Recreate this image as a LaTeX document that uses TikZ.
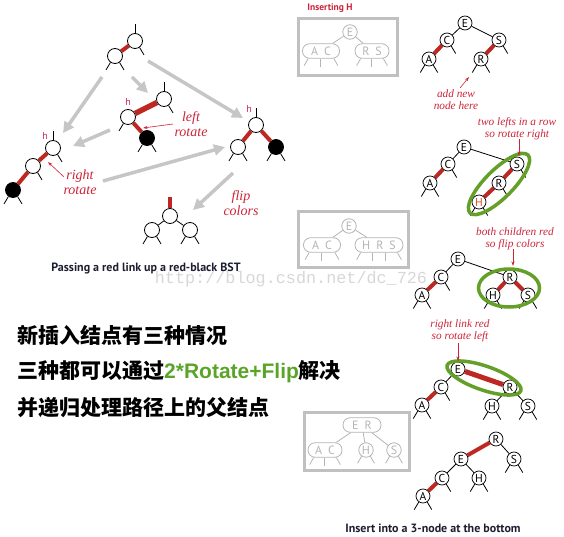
\documentclass[tikz,border=0pt]{standalone}
\usepackage{fontspec}
\setmainfont{Liberation Serif}
\setsansfont{PT Sans}
\newfontfamily\cjk{Noto Sans CJK SC}
\newfontfamily\arialb{Liberation Sans}
\newfontfamily\wmfont{Liberation Mono}
\usetikzlibrary{arrows.meta,shapes.geometric,calc}
\definecolor{rbred}{RGB}{190,40,35}
\definecolor{lblred}{RGB}{205,35,55}
\definecolor{hred}{RGB}{200,40,90}
\definecolor{garrow}{RGB}{198,198,198}
\definecolor{boxgray}{RGB}{192,192,192}
\definecolor{gin}{RGB}{180,180,180}
\definecolor{ringg}{RGB}{100,160,40}
\definecolor{cgreen}{RGB}{90,165,40}
\definecolor{wmc}{RGB}{215,215,215}
\definecolor{capc}{RGB}{30,30,50}
\definecolor{horange}{RGB}{215,80,30}
\newcommand\stL[1]{\draw[stb] (#1.-125) -- ++(-4.5,7.5);}
\newcommand\stR[1]{\draw[stb] (#1.-55) -- ++(4.5,7.5);}
\newcommand\stT[1]{\draw[stb] (#1.north) -- ++(0,-9);}
\newcommand\stLR[1]{\stL{#1}\stR{#1}}
\newcommand\ovL[1]{\draw[gl] ($(#1.south west)+(6,0)$) -- ++(-4,7);}
\newcommand\ovR[1]{\draw[gl] ($(#1.south east)+(-6,0)$) -- ++(4,7);}
\newcommand\ovM[2]{\draw[gl] ($(#1.south west)+(#2,0)$) -- ++(0,8);}
\begin{document}
\begin{tikzpicture}[x=1pt,y=-1pt,
 nd/.style={circle,draw,fill=white,inner sep=0pt,minimum size=15pt,line width=0.8pt},
 bk/.style={nd,fill=black},
 rn/.style={circle,draw,fill=white,inner sep=0pt,minimum size=14pt,line width=0.75pt,font=\sffamily\fontsize{11.5}{11.5}\selectfont},
 redl/.style={draw=rbred,line width=4pt},
 blk/.style={draw=black,line width=0.8pt},
 stb/.style={draw=black,line width=0.8pt},
 garr/.style={draw=garrow,line width=3.5pt,-{Triangle[length=11pt,width=11pt]}},
 annot/.style={draw=lblred,line width=0.6pt,-{Stealth[length=4.5pt,width=3pt]}},
 lblL/.style={text=lblred,font=\itshape\fontsize{14}{15}\selectfont,align=center,inner sep=0pt},
 lblR/.style={text=lblred,font=\itshape\fontsize{11.3}{12}\selectfont,align=center,inner sep=0pt},
 hl/.style={text=hred,font=\sffamily\fontsize{10}{10}\selectfont,inner sep=0pt},
 greenring/.style={draw=ringg,line width=3.5pt,ellipse,inner sep=0pt},
 graybox/.style={draw=boxgray,line width=3pt},
 gcirc/.style={circle,draw=gin,line width=0.8pt,text=gin,inner sep=0pt,minimum size=14.5pt,font=\sffamily\fontsize{12}{12}\selectfont},
 goval/.style={rounded corners=7pt,draw=gin,line width=0.8pt,text=gin,inner sep=0pt,minimum height=14.5pt,font=\sffamily\fontsize{12}{12}\selectfont},
 gl/.style={draw=gin,line width=0.8pt},
 capt/.style={font=\sffamily\bfseries\fontsize{12}{12}\selectfont,text=capc,inner sep=0pt},
 zh/.style={anchor=west,inner sep=0pt,font=\cjk\bfseries\fontsize{21}{21}\selectfont}
]
\useasboundingbox (0,0) rectangle (564,537);
% watermark
\node[text=wmc,font=\wmfont\fontsize{16.8}{17}\selectfont,inner sep=0pt] (wm) at (291,279) {http://blog.csdn.net/dc\_726};

% ---------- left diagram ----------
% top tree
\node[nd] (t1) at (135,41) {};
\node[nd] (t2) at (115,56) {};
\draw[redl] (t1) -- (t2);
\stT{t1}\stR{t1}\stLR{t2}
% middle tree
\node[nd] (m1) at (164,99) {};
\node[nd] (mh) at (128,117) {};
\node[bk] (mb) at (147,138) {};
\draw[redl,line width=5.5pt] (m1) -- (mh);
\draw[redl] (mh) -- (mb);
\stT{m1}\stR{m1}\stL{mh}\stLR{mb}
\node[hl] (hm) at (128,102) {h};
% left tree
\node[nd] (l1) at (53,148) {};
\node[nd] (l2) at (33,166) {};
\node[bk] (lb) at (13,190) {};
\draw[redl] (l1) -- (l2);
\draw[redl] (l2) -- (lb);
\stT{l1}\stR{l1}\stR{l2}\stLR{lb}
\node[hl] (hlft) at (45,136) {h};
% right tree
\node[nd] (r1) at (256,125) {};
\node[nd] (r2) at (238,147) {};
\node[bk] (rb) at (276,147) {};
\draw[redl] (r1) -- (r2);
\draw[redl] (r1) -- (rb);
\stT{r1}\stLR{r2}\stLR{rb}
\node[hl] (hr) at (249,109) {h};
% bottom tree
\node[nd] (b1) at (170,216) {};
\node[nd] (b2) at (152,230) {};
\node[nd] (b3) at (190,230) {};
\draw[blk] (b1) -- (b2);
\draw[blk] (b1) -- (b3);
\draw[redl] (b1.north) -- ++(0,-11);
\stLR{b2}\stLR{b3}
% gray arrows
\coordinate (ga1s) at (102,77); \coordinate (ga1e) at (63,133);
\coordinate (ga2s) at (132,77); \coordinate (ga2e) at (148,93);
\coordinate (ga3s) at (148,61); \coordinate (ga3e) at (243,118);
\coordinate (ga4s) at (110,130); \coordinate (ga4e) at (73,146);
\coordinate (ga5s) at (103,181); \coordinate (ga5e) at (225,147);
\coordinate (ga6s) at (233,173); \coordinate (ga6e) at (193,210);
\draw[garr] (ga1s) -- (ga1e);
\draw[garr] (ga2s) -- (ga2e);
\draw[garr] (ga3s) -- (ga3e);
\draw[garr] (ga4s) -- (ga4e);
\draw[garr] (ga5s) -- (ga5e);
\draw[garr] (ga6s) -- (ga6e);
% labels
\node[lblL] (lrot) at (191,124) {left\\rotate};
\coordinate (lra) at (173,124); \coordinate (lrb) at (143,128);
\draw[annot] (lra) -- (lrb);
\node[lblL] (rrot) at (80,182) {right\\rotate};
\coordinate (rra) at (64,177); \coordinate (rrb) at (48,162);
\draw[annot] (rra) -- (rrb);
\node[lblL] (flip) at (241,203) {flip\\colors};
\node[capt] (cap1) at (146,268) {Passing a red link up a red-black BST};

% ---------- right column ----------
\node[font=\sffamily\bfseries\fontsize{9.5}{9.5}\selectfont,text=lblred,inner sep=0pt] (ins) at (330,8) {Inserting H};
% box 1
\draw[graybox] (298,19) rectangle (397,76);
\node[gcirc] (bxE1) at (350,32) {E};
\node[goval,minimum width=37pt] (bxAC1) at (321,51) {A\,\,\,C};
\node[goval,minimum width=34pt] (bxRS1) at (372,51) {R\,\,\,S};
\draw[gl] (bxE1) -- (bxAC1);
\draw[gl] (bxE1) -- (bxRS1);
\ovL{bxAC1}\ovM{bxAC1}{18.5}\ovR{bxAC1}
\ovL{bxRS1}\ovM{bxRS1}{17}\ovR{bxRS1}
% box 2
\draw[graybox] (298,212) rectangle (408,267);
\node[gcirc] (bxE2) at (349,226) {E};
\node[goval,minimum width=37pt] (bxAC2) at (322,245) {A\,\,\,C};
\node[goval,minimum width=48pt] (bxHRS2) at (379,245) {H\,\,\,R\,\,\,S};
\draw[gl] (bxE2) -- (bxAC2);
\draw[gl] (bxE2) -- (bxHRS2);
\ovL{bxAC2}\ovM{bxAC2}{18.5}\ovR{bxAC2}
\ovL{bxHRS2}\ovM{bxHRS2}{18}\ovM{bxHRS2}{31}\ovR{bxHRS2}
% box 3
\draw[graybox] (304,412) rectangle (409,470);
\node[goval,minimum width=38pt] (bxER3) at (362,425) {E\,\,\,R};
\node[goval,minimum width=34pt] (bxAC3) at (325,450) {A\,\,\,C};
\node[gcirc] (bxH3) at (366,450) {H};
\node[gcirc] (bxS3) at (394,450) {S};
\draw[gl] (bxER3) -- (bxAC3);
\draw[gl] (bxER3) -- (bxH3);
\draw[gl] (bxER3) -- (bxS3);
\ovL{bxAC3}\ovM{bxAC3}{17}\ovR{bxAC3}
\draw[gl] (bxH3.-125) -- ++(-4,7); \draw[gl] (bxH3.-55) -- ++(4,7);
\draw[gl] (bxS3.-125) -- ++(-4,7); \draw[gl] (bxS3.-55) -- ++(4,7);
\node[capt] (cap2) at (433,528) {Insert into a 3-node at the bottom};

% tree 1
\node[rn] (E1) at (465,23) {E};
\node[rn] (C1) at (447,40) {C};
\node[rn] (A1) at (429,59) {A};
\node[rn] (S1) at (499,40) {S};
\node[rn] (R1) at (481,59) {R};
\draw[blk] (E1) -- (C1); \draw[blk] (E1) -- (S1);
\draw[redl] (C1) -- (A1); \draw[redl] (S1) -- (R1);
\stR{C1}\stR{S1}\stLR{A1}\stLR{R1}
\node[lblR] (addn) at (456,100) {add new\\node here};
\coordinate (ana) at (460,88); \coordinate (anb) at (469,77);
\draw[annot] (ana) -- (anb);
% tree 2
\node[rn] (E2) at (464,147) {E};
\node[rn] (C2) at (448,164) {C};
\node[rn] (A2) at (430,183) {A};
\node[rn] (S2) at (517,164) {S};
\node[rn] (R2) at (499,183) {R};
\node[rn,text=horange] (H2) at (479,202) {H};
\draw[blk] (E2) -- (C2); \draw[blk] (E2) -- (S2);
\draw[redl] (C2) -- (A2); \draw[redl] (S2) -- (R2); \draw[redl] (R2) -- (H2);
\stR{C2}\stLR{A2}\stR{S2}\stR{R2}\stLR{H2}
\node[greenring,minimum width=82pt,minimum height=28pt,rotate=45] (ring1) at (499,184) {};
\node[lblR] (twol) at (517,128.5) {two lefts in a row\\so rotate right};
\coordinate (tla) at (519,139); \coordinate (tlb) at (519,156);
\draw[annot] (tla) -- (tlb);
% tree 3
\node[rn] (E3) at (458,259) {E};
\node[rn] (C3) at (441,277) {C};
\node[rn] (A3) at (422,295) {A};
\node[rn] (R3) at (510,277) {R};
\node[rn] (H3) at (493,295) {H};
\node[rn] (S3) at (528,295) {S};
\draw[blk] (E3) -- (C3); \draw[blk] (E3) -- (R3);
\draw[redl] (C3) -- (A3); \draw[redl] (R3) -- (H3); \draw[redl] (R3) -- (S3);
\stR{C3}\stLR{A3}\stLR{H3}\stLR{S3}
\node[greenring,minimum width=61pt,minimum height=38pt] (ring2) at (509,288) {};
\node[lblR] (both) at (515,238.5) {both children red\\so flip colors};
\coordinate (bca) at (513,249); \coordinate (bcb) at (513,266);
\draw[annot] (bca) -- (bcb);
% tree 4
\node[rn] (E4) at (458,369) {E};
\node[rn] (C4) at (441,387) {C};
\node[rn] (A4) at (422,405) {A};
\node[rn] (R4) at (510,387) {R};
\node[rn] (H4) at (492,406) {H};
\node[rn] (S4) at (528,406) {S};
\draw[blk] (E4) -- (C4); \draw[redl,line width=5pt] (E4) -- (R4);
\draw[redl] (C4) -- (A4); \draw[blk] (R4) -- (H4); \draw[blk] (R4) -- (S4);
\stR{C4}\stLR{A4}\stLR{H4}\stLR{S4}
\node[greenring,minimum width=78pt,minimum height=24pt,rotate=-19] (ring3) at (484,378) {};
\node[lblR] (rlr) at (460,330.5) {right link red\\so rotate left};
\coordinate (rla) at (458,343); \coordinate (rlb) at (458,361);
\draw[annot] (rla) -- (rlb);
% tree 5
\node[rn] (R5) at (496,439) {R};
\node[rn] (E5) at (461,459) {E};
\node[rn] (S5) at (514,459) {S};
\node[rn] (C5) at (442,478) {C};
\node[rn] (H5) at (479,478) {H};
\node[rn] (A5) at (423,496) {A};
\draw[redl] (R5) -- (E5); \draw[blk] (R5) -- (S5);
\draw[blk] (E5) -- (C5); \draw[blk] (E5) -- (H5);
\draw[redl] (C5) -- (A5);
\stLR{A5}\stR{C5}\stLR{H5}\stLR{S5}

% ---------- Chinese text ----------
\node[zh] (zh1) at (17,335) {新插入结点有三种情况};
\node[zh] (zh2) at (17,372) {三种都可以通过{\arialb\bfseries\color{cgreen}2*Rotate+Flip}解决};
\node[zh] (zh3) at (17,408) {并递归处理路径上的父结点};
\end{tikzpicture}
\end{document}
